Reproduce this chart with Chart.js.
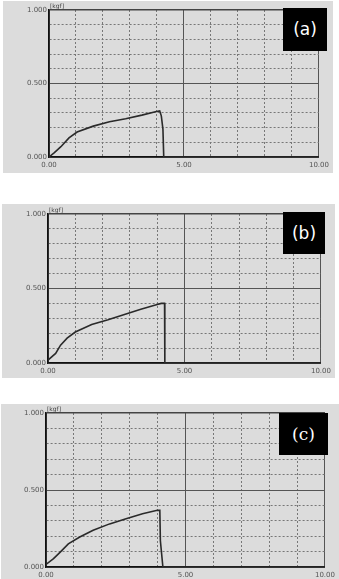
<!DOCTYPE html>
<html>
<head>
<meta charset="utf-8">
<script src="https://cdn.jsdelivr.net/npm/chart.js@4/dist/chart.umd.min.js"></script>
<style>
  body { margin: 0; background: #fff; width: 339px; height: 579px; position: relative; overflow: hidden; }
  .panel { position: absolute; background: #dcdcdc; }
  .tag { position: absolute; background: #000; color: #fff; font-size: 17px; text-align: center; }
</style>
</head>
<body>
<div class="panel" id="pa" style="left:3px;top:1px;width:330px;height:172px"><canvas id="chartA"></canvas></div>
<div class="panel" id="pb" style="left:2px;top:204px;width:333px;height:174px"><canvas id="chartB"></canvas></div>
<div class="panel" id="pc" style="left:1px;top:404px;width:338px;height:175px"><canvas id="chartC"></canvas></div>
<div class="tag" style="left:283px;top:8px;width:44px;height:43px;line-height:43px;font-family:'DejaVu Sans'">(a)</div>
<div class="tag" style="left:283px;top:212px;width:42px;height:42px;line-height:42px;font-family:'DejaVu Sans'">(b)</div>
<div class="tag" style="left:279px;top:413px;width:49px;height:42px;line-height:42px;font-family:'DejaVu Serif'">(c)</div>
<script>
// tick labels shown on the axes
var xTickLabels = ['0.00', '5.00', '10.00'];
var yTickLabels = ['0.000', '0.500', '1.000'];
var unitLabel = '[kgf]';

// (a)
var xA = [0, 0.2, 0.44, 0.74, 1.04, 1.64, 2.24, 2.84, 3.44, 3.98, 4.1, 4.16, 4.22, 4.25, 10];
var yA = [0, 0.03, 0.07, 0.13, 0.17, 0.21, 0.24, 0.26, 0.285, 0.31, 0.313, 0.28, 0.19, 0, 0];
// (b)
var xB = [0, 0.28, 0.46, 0.7, 1.0, 1.6, 2.2, 2.8, 3.4, 4.0, 4.15, 4.27, 4.28, 10];
var yB = [0.02, 0.064, 0.12, 0.167, 0.208, 0.258, 0.29, 0.326, 0.36, 0.392, 0.40, 0.40, 0, 0];
// (c)
var xC = [0, 0.27, 0.51, 0.8, 1.21, 1.69, 2.28, 2.87, 3.46, 3.99, 4.08, 4.1, 4.19, 10];
var yC = [0.017, 0.054, 0.097, 0.15, 0.195, 0.238, 0.28, 0.314, 0.346, 0.368, 0.368, 0.17, 0, 0];

function toPoints(xs, ys) {
  return xs.map(function (x, i) { return { x: x, y: ys[i] }; });
}

// draws the unit label next to the top of the y axis
var unitPlugin = {
  id: 'unit',
  afterDraw: function (chart) {
    var c = chart.ctx, a = chart.chartArea;
    c.save();
    c.font = '6px "DejaVu Sans"';
    c.fillStyle = '#444';
    c.textBaseline = 'bottom';
    c.fillText(unitLabel, a.left + 1, a.top - 1);
    c.restore();
  }
};

function makeChart(id, xs, ys, yWidth, xHeight, padRight, padTop) {
  var ctx = document.getElementById(id);
  return new Chart(ctx, {
    type: 'line',
    data: {
      datasets: [{
        data: toPoints(xs, ys),
        borderColor: '#2a2a2a',
        borderWidth: 1.6,
        pointRadius: 0,
        tension: 0
      }]
    },
    options: {
      responsive: true,
      maintainAspectRatio: false,
      animation: false,
      layout: { padding: { top: padTop, right: padRight, left: 0, bottom: 0 } },
      plugins: { legend: { display: false }, tooltip: { enabled: false } },
      scales: {
        x: {
          type: 'linear', min: 0, max: 10,
          afterFit: function (s) { s.height = xHeight; },
          ticks: {
            stepSize: 1, maxRotation: 0, autoSkip: false, padding: 4,
            font: { size: 7, family: 'DejaVu Sans' }, color: '#555',
            callback: function (v) { return v % 5 === 0 ? xTickLabels[v / 5] : ''; }
          },
          grid: {
            drawTicks: false,
            color: function (c) { return c.tick && c.tick.value % 5 === 0 ? '#555' : '#777'; },
            lineWidth: 1
          },
          border: {
            color: '#111', width: 1.6,
            dash: function (c) { return c.tick && c.tick.value % 5 !== 0 ? [2, 2] : []; }
          }
        },
        y: {
          min: 0, max: 1,
          afterFit: function (s) { s.width = yWidth; },
          ticks: {
            stepSize: 0.1, autoSkip: false, padding: 2,
            font: { size: 7, family: 'DejaVu Sans' }, color: '#555',
            callback: function (v) {
              var n = Math.round(v * 10);
              return n % 5 === 0 ? yTickLabels[n / 5] : '';
            }
          },
          grid: {
            drawTicks: false,
            color: function (c) {
              if (!c.tick) return '#777';
              var n = Math.round(c.tick.value * 10);
              return n === 10 ? '#444' : (n % 5 === 0 ? '#555' : '#777');
            },
            lineWidth: function (c) { return c.tick && Math.round(c.tick.value * 10) === 10 ? 1.5 : 1; }
          },
          border: {
            color: '#111', width: 1.6,
            dash: function (c) { return c.tick && Math.round(c.tick.value * 10) % 5 !== 0 ? [2, 2] : []; }
          }
        }
      }
    },
    plugins: [unitPlugin]
  });
}

makeChart('chartA', xA, yA, 46, 16, 6, 9);
makeChart('chartB', xB, yB, 46, 15, 10, 10);
makeChart('chartC', xC, yC, 45, 12, 11, 9);
</script>
</body>
</html>
